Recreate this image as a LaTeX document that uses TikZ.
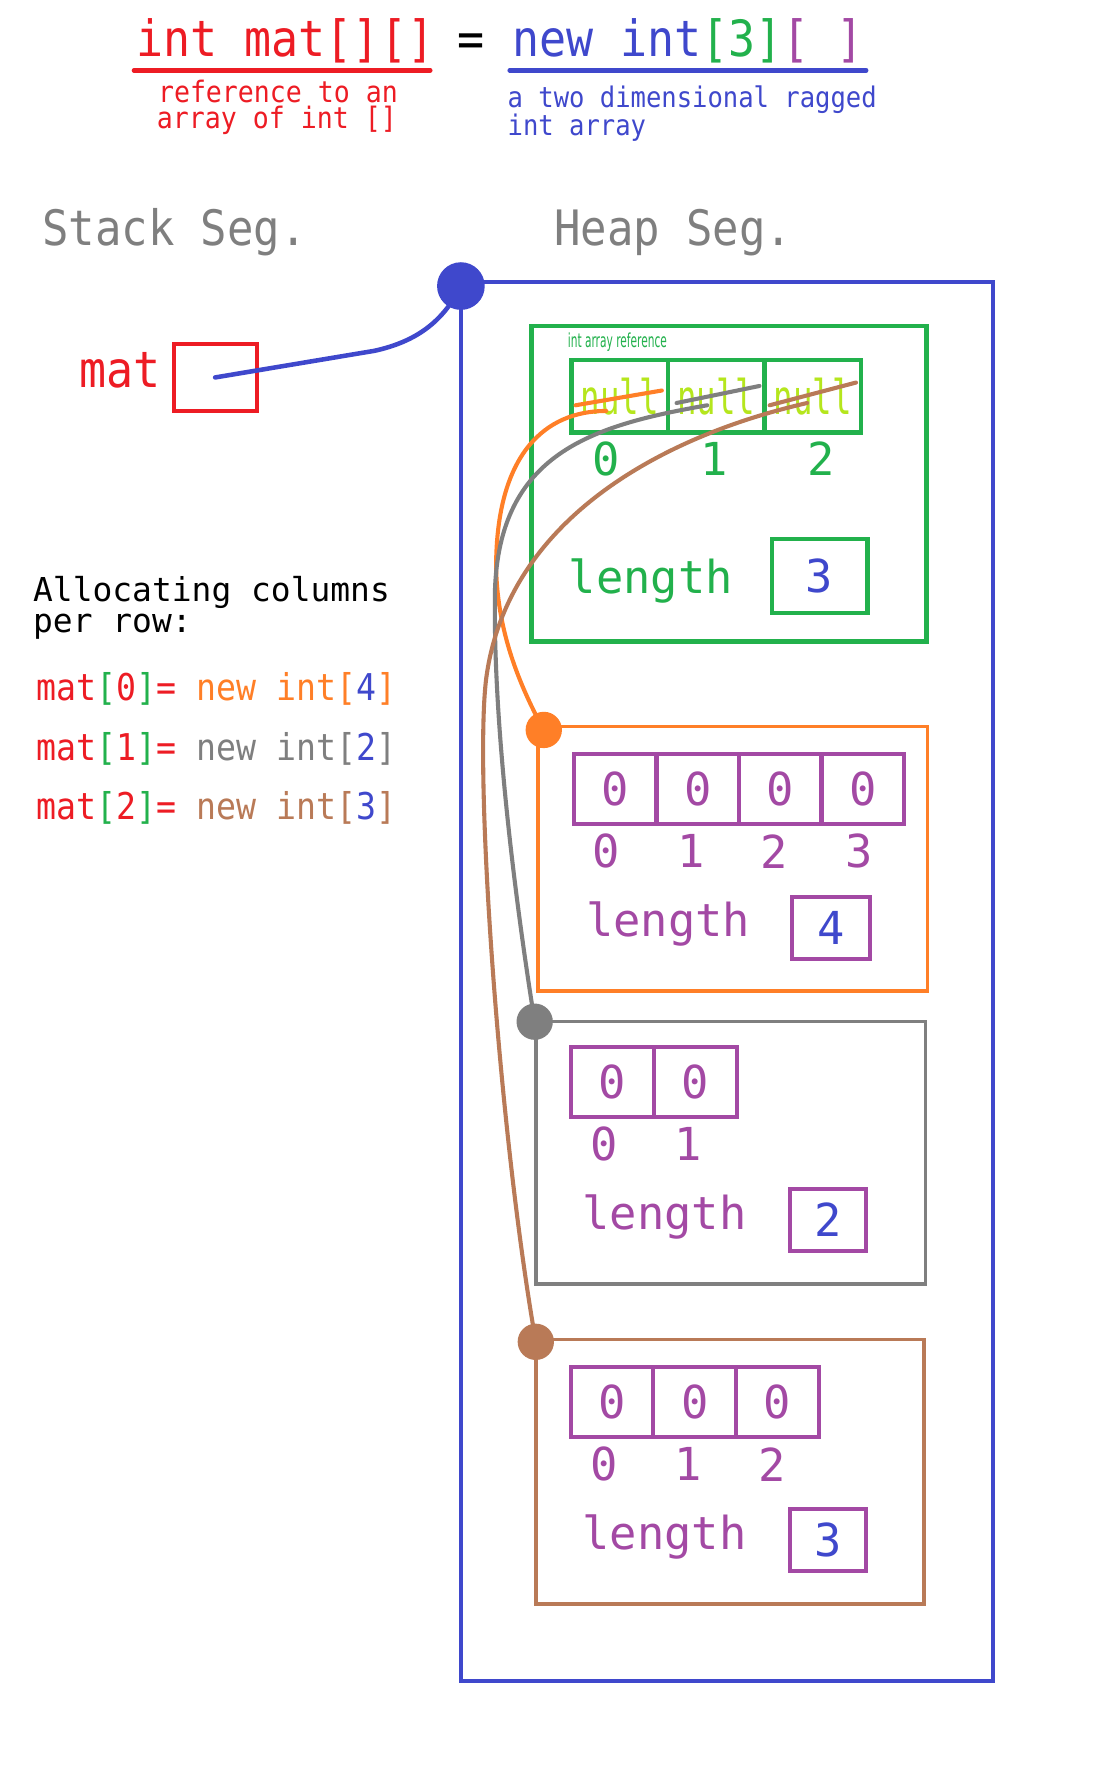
\documentclass[tikz,border=0pt]{standalone}
\usepackage{fontspec}
\newfontfamily\mono{DejaVu Sans Mono}
\newfontfamily\narrow[FakeStretch=0.9]{DejaVu Sans Mono}
\newfontfamily\vnarrow[FakeStretch=0.68]{DejaVu Sans Mono}
\newfontfamily\cond[FakeStretch=0.55]{DejaVu Sans}
\usetikzlibrary{calc}
\definecolor{pred}{HTML}{ED1C24}
\definecolor{pblue}{HTML}{3F48CC}
\definecolor{pgreen}{HTML}{22B14C}
\definecolor{ppurple}{HTML}{A349A4}
\definecolor{porange}{HTML}{FF7F27}
\definecolor{pgray}{HTML}{7F7F7F}
\definecolor{pbrown}{HTML}{B97A57}
\definecolor{pyellow}{HTML}{B5E61D}
\tikzset{
  txt/.style={inner sep=0pt, anchor=base west},
  hdr/.style={txt, font=\narrow\fontsize{44}{46}\selectfont},
  seg/.style={txt, font=\narrow\fontsize{43}{45}\selectfont, text=pgray},
  note/.style={txt, font=\narrow\fontsize{26}{28}\selectfont},
  code/.style={txt, font=\narrow\fontsize{32.5}{34}\selectfont},
  frame/.style={draw, inner sep=0pt},
  gcell/.style={draw=pgreen, line width=4pt, minimum width=85pt, minimum height=64pt, inner sep=0pt,
     font=\vnarrow\fontsize{42}{42}\selectfont, text=pyellow},
  pcell/.style={draw=ppurple, line width=3.5pt, minimum height=62pt, inner sep=0pt,
     font=\mono\fontsize{40}{40}\selectfont, text=ppurple},
  idx/.style={inner sep=0pt, font=\mono\fontsize{40}{40}\selectfont},
  lenlbl/.style={inner sep=0pt, anchor=west, font=\mono\fontsize{40}{40}\selectfont},
  lenbox/.style={draw=ppurple, line width=3.5pt, minimum width=67pt, minimum height=55pt, inner sep=0pt,
     font=\mono\fontsize{40}{40}\selectfont, text=pblue},
  dot/.style={circle, inner sep=0pt, minimum size=32pt},
  link/.style={line width=3.6pt, line cap=round},
}
\begin{document}
\begin{tikzpicture}[x=1pt,y=-1pt]
\useasboundingbox[fill=white] (0,0) rectangle (965,1568);

% ---------- title ----------
\node[hdr, text=pred] (decl) at (120,50) {int mat[][]};
\node[hdr] (eq) at (403,50) {=};
\node[hdr] (alloc) at (451,50) {\textcolor{pblue}{new int}\textcolor{pgreen}{[3]}\textcolor{ppurple}{[ ]}};
\draw[pred, line width=4pt, line cap=round] (118,62) -- (379,62);
\draw[pblue, line width=4pt, line cap=round] (449,62) -- (763,62);
\node[note, text=pred] (n1) at (139,90) {reference to an};
\node[note, text=pred] (n2) at (138,113) {array of int []};
\node[note, text=pblue, font=\narrow\fontsize{25}{27}\selectfont] (n3) at (447,95) {a two dimensional ragged};
\node[note, text=pblue, font=\narrow\fontsize{25}{27}\selectfont] (n4) at (447,119) {int array};

% ---------- segments ----------
\node[seg] (stack) at (37,216) {Stack Seg.};
\node[seg] (heap) at (488,216) {Heap Seg.};

% ---------- stack ----------
\node[hdr, text=pred] (matlbl) at (70,341) {mat};
\node[frame, draw=pred, line width=3.5pt, minimum width=73pt, minimum height=59pt] (matbox) at (189.5,332.5) {};

% ---------- heap ----------
\node[frame, draw=pblue, line width=3.5pt, minimum width=469pt, minimum height=1233pt] (heapbox) at (640.5,864.5) {};

% reference array
\node[frame, draw=pgreen, line width=4pt, minimum width=348pt, minimum height=278pt] (refarr) at (642,426) {};
\node[inner sep=0pt, anchor=west, text=pgreen, font=\cond\fontsize{17}{17}\selectfont] (reflbl) at (500,301) {int array reference};
\node[gcell] (r0) at (546,349) {null};
\node[gcell] (r1) at (631,349) {null};
\node[gcell] (r2) at (716,349) {null};
\node[idx, text=pgreen] (ri0) at (534,404) {0};
\node[idx, text=pgreen] (ri1) at (629,404) {1};
\node[idx, text=pgreen] (ri2) at (723,404) {2};
\node[lenlbl, text=pgreen] (rlen) at (501,512) {length};
\node[lenbox, draw=pgreen, line width=4pt, minimum width=84pt, minimum height=65pt] (rlenbox) at (722,507.5) {3};

% row 0 (orange)
\node[frame, draw=porange, line width=3pt, minimum width=343pt, minimum height=233pt] (row0) at (645.5,756.5) {};
\foreach \i/\x in {0/542,1/615,2/687,3/760} {
  \node[pcell, minimum width=72.5pt] (a\i) at (\x,695) {0};
}
\foreach \i/\x in {0/534,1/609,2/682,3/757} {
  \node[idx, text=ppurple] (ai\i) at (\x,750) {\i};
}
\node[lenlbl, text=ppurple] (alen) at (516,814) {length};
\node[lenbox, minimum width=68pt] (alenbox) at (732,817.5) {4};

% row 1 (gray)
\node[frame, draw=pgray, line width=3pt, minimum width=343pt, minimum height=231pt] (row1) at (643.5,1015.5) {};
\foreach \i/\x in {0/539.5,1/612.5} {
  \node[pcell, minimum width=73pt] (b\i) at (\x,953) {0};
}
\foreach \i/\x in {0/532,1/606} {
  \node[idx, text=ppurple] (bi\i) at (\x,1008) {\i};
}
\node[lenlbl, text=ppurple] (blen) at (513,1072) {length};
\node[lenbox] (blenbox) at (729.5,1074.5) {2};

% row 2 (brown)
\node[frame, draw=pbrown, line width=3pt, minimum width=342pt, minimum height=233pt] (row2) at (643,1296.5) {};
\foreach \i/\x in {0/539,1/612,2/685} {
  \node[pcell, minimum width=72.7pt] (c\i) at (\x,1235) {0};
}
\foreach \i/\x in {0/532,1/606,2/680} {
  \node[idx, text=ppurple] (ci\i) at (\x,1290) {\i};
}
\node[lenlbl, text=ppurple] (clen) at (513,1354) {length};
\node[lenbox] (clenbox) at (729.5,1356.5) {3};

% ---------- left code ----------
\node[txt, font=\mono\fontsize{29}{30}\selectfont] (allo1) at (29,530) {Allocating columns};
\node[txt, font=\mono\fontsize{29}{30}\selectfont] (allo2) at (29,557) {per row:};
\node[code] (c0line) at (32,617) {\textcolor{pred}{mat}\textcolor{pgreen}{[}\textcolor{pred}{0}\textcolor{pgreen}{]}\textcolor{pred}{=} \textcolor{porange}{new int[}\textcolor{pblue}{4}\textcolor{porange}{]}};
\node[code] (c1line) at (32,670) {\textcolor{pred}{mat}\textcolor{pgreen}{[}\textcolor{pred}{1}\textcolor{pgreen}{]}\textcolor{pred}{=} \textcolor{pgray}{new int[}\textcolor{pblue}{2}\textcolor{pgray}{]}};
\node[code] (c2line) at (32,722) {\textcolor{pred}{mat}\textcolor{pgreen}{[}\textcolor{pred}{2}\textcolor{pgreen}{]}\textcolor{pred}{=} \textcolor{pbrown}{new int[}\textcolor{pblue}{3}\textcolor{pbrown}{]}};

% ---------- dots ----------
\node[dot, fill=pblue, minimum size=42pt] (heapdot) at (406,252) {};
\node[dot, fill=porange] (odot) at (479,643) {};
\node[dot, fill=pgray] (gdot) at (471,900) {};
\node[dot, fill=pbrown] (bdot) at (472,1182) {};

% ---------- connectors ----------
\draw[pblue, line width=4pt, line cap=round] (matbox.center) -- (330,309) .. controls (366,301) and (390,284) .. (heapdot.center);

\coordinate (os) at (534,362);
\coordinate (gs) at (623,357);
\coordinate (bs) at (711,355);
\draw[link, porange] (507,357) -- (583,344);
\draw[link, pgray] (596,355) -- (669,340);
\draw[link, pbrown] (678,357) -- (754,337);

\draw[link, porange] (os) .. controls (480,362) and (437,400) .. (437,500)
   .. controls (438,545) and (450,590) .. (odot.center);
\draw[link, pgray] (gs) .. controls (520,375) and (440,400) .. (436,520)
   .. controls (434,640) and (455,800) .. (gdot.center);
\draw[link, pbrown] (bs) .. controls (580,385) and (445,460) .. (428,600)
   .. controls (418,690) and (440,1000) .. (bdot.center);
\end{tikzpicture}
\end{document}
